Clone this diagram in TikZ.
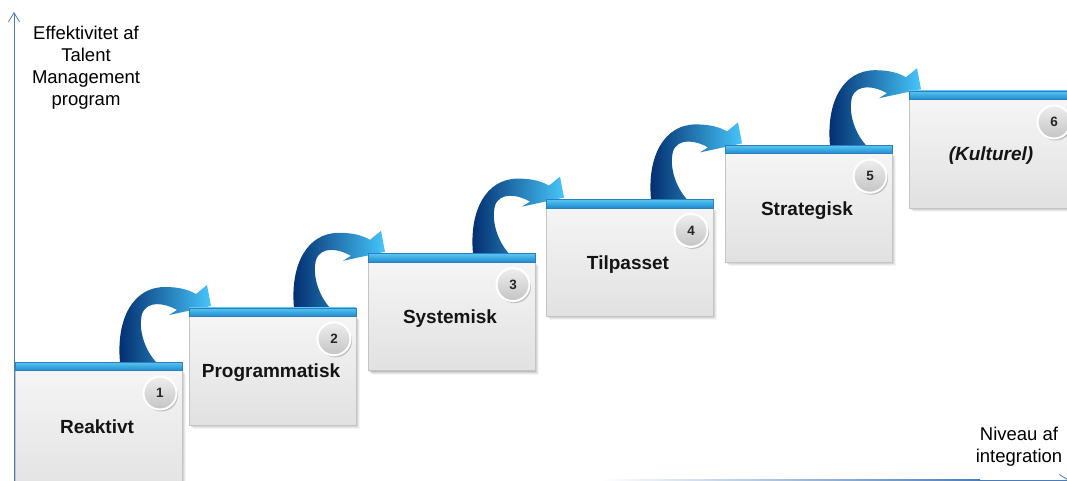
\documentclass[tikz,border=0pt]{standalone}
\usepackage{fontspec}
\setmainfont{Liberation Sans}
\usetikzlibrary{arrows.meta,shadows}
\definecolor{axisblue}{HTML}{4A7EBB}
\definecolor{navy}{HTML}{012A6C}
\definecolor{midblue}{HTML}{1766C6}
\definecolor{lightblue}{HTML}{46C6FA}
\definecolor{barlight}{HTML}{58C6F2}
\definecolor{bardark}{HTML}{1E8CCE}
\definecolor{baredge}{HTML}{2F7DC0}
\definecolor{boxtop}{HTML}{F5F5F5}
\definecolor{boxbot}{HTML}{E1E1E1}
\definecolor{boxedge}{HTML}{C4C4C4}
\definecolor{badgetop}{HTML}{EEEEEE}
\definecolor{badgebot}{HTML}{C4C4C6}
\begin{document}
\begin{tikzpicture}[x=1pt,y=-1pt,
  boxbody/.style={draw=boxedge, line width=0.6pt, top color=boxtop, bottom color=boxbot,
    minimum width=167pt, anchor=north west, inner sep=0pt, outer sep=0pt},
  topbar/.style={draw=baredge, line width=0.5pt, top color=barlight, bottom color=bardark,
    minimum width=167pt, minimum height=8.5pt, anchor=north west, inner sep=0pt, outer sep=0pt},
  steplabel/.style={font=\fontsize{19}{23}\selectfont\bfseries, text=black!92},
  numbadge/.style={circle, minimum size=33pt, inner sep=0pt, draw=white, line width=2pt,
    top color=badgetop, bottom color=badgebot, font=\fontsize{13.5}{15}\selectfont\bfseries,
    text=black!85, drop shadow={shadow xshift=1.5pt, shadow yshift=-2pt, opacity=0.35, fill=black!60}},
  ribbon/.style={left color=navy, middle color=midblue, right color=lightblue},
  axislabel/.style={align=center, font=\fontsize{18.5}{22}\selectfont, text=black},
  axisline/.style={draw=axisblue, line width=0.8pt}
]
\useasboundingbox (0,0) rectangle (1067,481);

% box origins (left, bar top)
\coordinate (o1) at (15,362);
\coordinate (o2) at (189,307.8);
\coordinate (o3) at (368,253.6);
\coordinate (o4) at (546,199.4);
\coordinate (o5) at (725,145.2);
\coordinate (o6) at (909,91);

% curved ribbon arrows (drawn first, boxes overlap them)
\foreach \i in {1,...,5}{
  \begin{scope}[shift={(o\i)}]
    \shade[ribbon] (105,3) -- (105,0)
      .. controls (101,-43) and (118,-75) .. (150,-75)
      .. controls (165,-75) and (174,-72) .. (181,-68)
      -- (192,-77) -- (196,-56) -- (154,-47) -- (162,-52)
      .. controls (150,-59) and (132,-62) .. (127,-48)
      .. controls (123,-32) and (130,-12) .. (141,0) -- (141,3) -- cycle;
  \end{scope}
}

% boxes
\foreach \i/\L/\T/\H/\lab in {1/15/362/130/{Reaktivt},
                               2/189/307.8/109/{Programmatisk},
                               3/368/253.6/109/{Systemisk},
                               4/546/199.4/109/{Tilpasset},
                               5/725/145.2/109/{Strategisk},
                               6/909/91/109/{\textit{(Kulturel)}}}{
  \foreach \s/\op in {1/0.10,2/0.08,3/0.06,4/0.04}{
    \fill[black, opacity=\op] ({\L+\s},{\T+8+\s}) rectangle ({\L+167+\s},{\T+8+\H+\s});
  }
  \node[boxbody, minimum height=\H pt] (box\i) at ({\L},{\T+8}) {};
  \node[topbar] (bar\i) at ({\L},{\T}) {};
  \node[steplabel] (lab\i) at ({\L+82},{\T+65}) {\lab};
  \node[numbadge] (num\i) at ({\L+145},{\T+31}) {\i};
}

% axes
\coordinate (ybot) at (14,481);
\coordinate (ytop) at (14,12);
\draw[axisline, -{Straight Barb[length=9pt,width=11pt]}] (ybot) -- (ytop);
\coordinate (xfade) at (600,480);
\coordinate (xmid) at (980,480);
\coordinate (xend) at (1069,480);
\shade[left color=white, right color=axisblue] (600,479.4) rectangle (980,480.6);
\draw[axisline, -{Straight Barb[length=9pt,width=11pt]}] (xmid) -- (xend);

\node[axislabel] (ylab) at (86,68) {Effektivitet af\\Talent\\Management\\program};
\node[axislabel] (xlab) at (1019,447) {Niveau af\\integration};
\end{tikzpicture}
\end{document}
